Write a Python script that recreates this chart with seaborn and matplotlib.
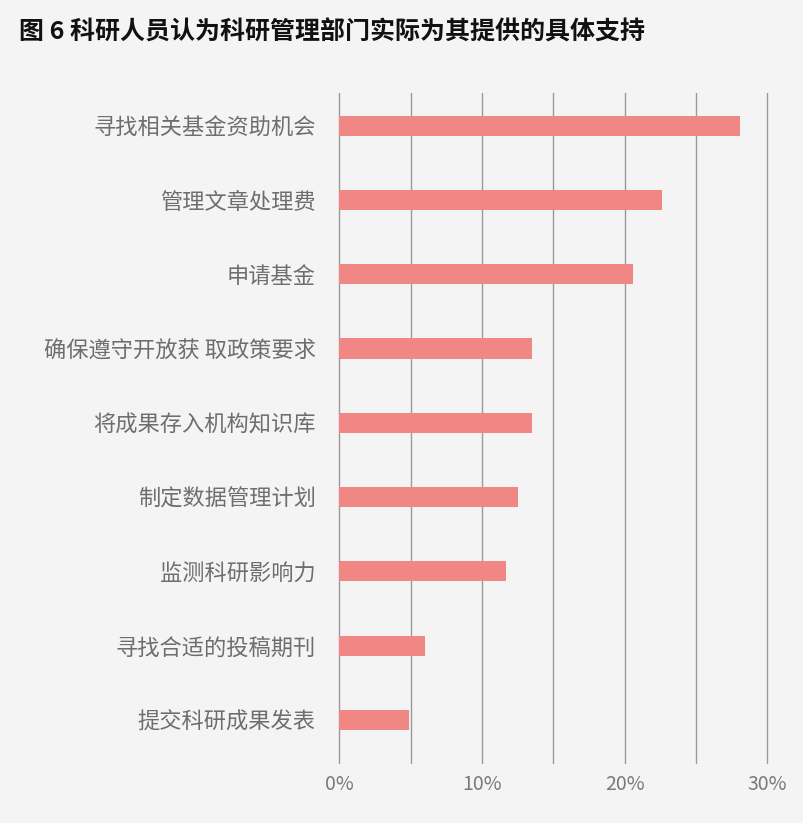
import matplotlib
matplotlib.use("Agg")
import matplotlib.pyplot as plt
import seaborn as sns
import pandas as pd
from matplotlib.ticker import FixedLocator

categories = [
    "寻找相关基金资助机会",
    "管理文章处理费",
    "申请基金",
    "确保遵守开放获取政策要求",
    "将成果存入机构知识库",
    "制定数据管理计划",
    "监测科研影响力",
    "寻找合适的投稿期刊",
    "提交科研成果发表",
]
# shown label text (the source has a gap in one label)
labels = [
    "寻找相关基金资助机会",
    "管理文章处理费",
    "申请基金",
    "确保遵守开放获 取政策要求",
    "将成果存入机构知识库",
    "制定数据管理计划",
    "监测科研影响力",
    "寻找合适的投稿期刊",
    "提交科研成果发表",
]
values = [28.1, 22.6, 20.6, 13.5, 13.5, 12.5, 11.7, 6.0, 4.9]
grid_positions = [0, 5, 10, 15, 20, 25, 30]
tick_values = [0, 10, 20, 30]
tick_labels = ["0%", "10%", "20%", "30%"]

title = "图 6 科研人员认为科研管理部门实际为其提供的具体支持"

bg = "#f4f4f4"
bar_color = "#f08784"

sns.set_theme(style="white")
plt.rcParams["font.family"] = ["Noto Sans CJK SC", "DejaVu Sans"]

df = pd.DataFrame({"item": categories, "share": values})

fig = plt.figure(figsize=(8.04, 8.23), dpi=100, facecolor=bg)
ax = fig.add_axes([0.422, 0.073, 0.5324, 0.814])
ax.set_facecolor(bg)

sns.barplot(data=df, x="share", y="item", orient="h", color=bar_color,
            width=0.27, saturation=1, linewidth=0, ax=ax, zorder=3)

ax.set_xlim(0, 30)
ax.set_ylim(8.58, -0.44)

for g in grid_positions:
    ax.axvline(g, color="#9a9a9a", linewidth=1.0, zorder=1, clip_on=False)

ax.xaxis.set_major_locator(FixedLocator(tick_values))
ax.set_xticklabels(tick_labels, fontsize=14, color="#7a7a7a",
                   fontweight="light")
ax.set_yticks(range(len(labels)))
ax.set_yticklabels(labels, fontsize=16, color="#6e6e6e",
                   fontweight="light")
ax.tick_params(axis="y", length=0, pad=17)
ax.tick_params(axis="x", length=0, pad=8)
ax.set_xlabel("")
ax.set_ylabel("")
for s in ax.spines.values():
    s.set_visible(False)

fig.text(0.024, 0.96, title, fontsize=18, fontweight="bold",
         color="#111111", ha="left", va="center")

fig.savefig("out.png", dpi=100, facecolor=bg)
